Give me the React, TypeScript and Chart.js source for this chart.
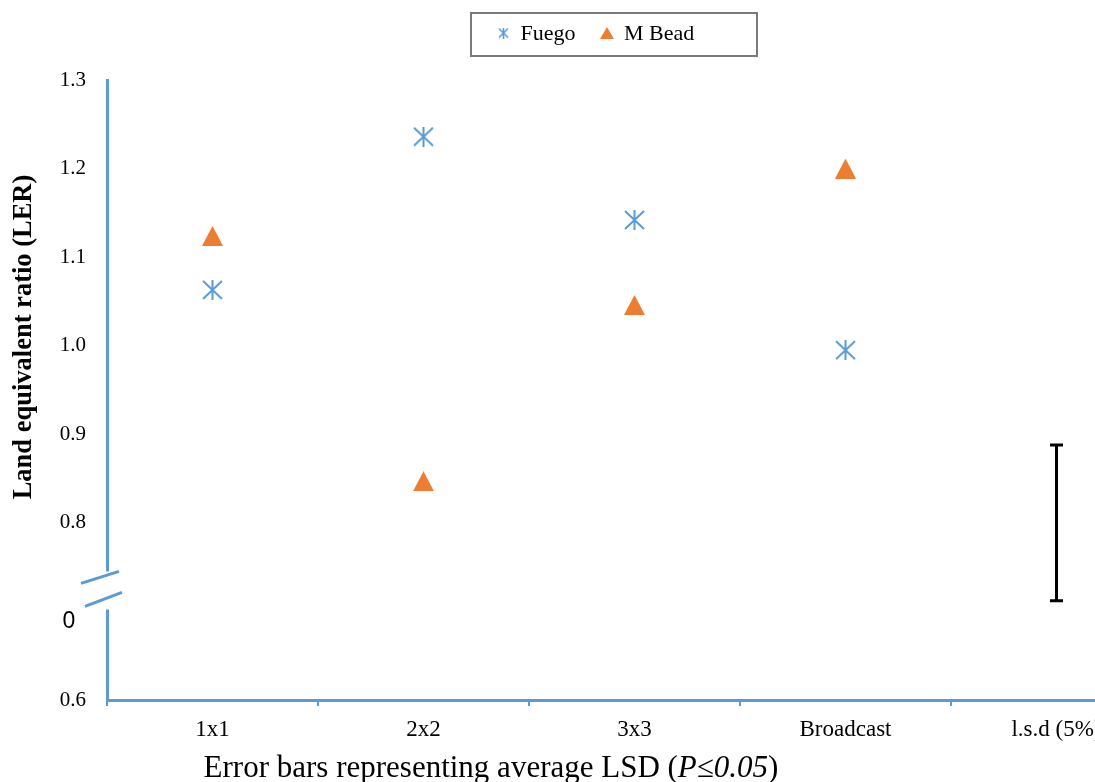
import React, { useEffect, useRef } from 'react';
import { Chart, registerables } from 'chart.js';

Chart.register(...registerables);

// ---- data ----
const categories = ['1x1', '2x2', '3x3', 'Broadcast', 'l.s.d (5%)'];
const seriesNames = ['Fuego', 'M Bead'];
const fuegoValues = [1.063, 1.236, 1.142, 0.995, null];
const mBeadValues = [1.124, 0.847, 1.046, 1.2, null];
const lsdCategory = 'l.s.d (5%)';
const lsdLow = 0.712;
const lsdHigh = 0.888;
const yMin = 0.6;
const yMax = 1.3;
const yStep = 0.1;
const breakTickValue = 0.7;
const breakTickLabel = '0';
const yTitle = 'Land equivalent ratio (LER)';
const xTitleMain = 'Error bars representing average LSD (';
const xTitleItalic = 'P≤0.05';
const xTitleEnd = ')';

// ---- styles ----
const BLUE = '#5B9BD5';
const ORANGE = '#ED7D31';
const SERIF = "'Liberation Serif', 'Times New Roman', serif";
const SANS = "'Liberation Sans', Arial, sans-serif";

function makeAsterisk(w: number, h: number, lw: number, color: string) {
  const c = document.createElement('canvas');
  c.width = w;
  c.height = h;
  const g = c.getContext('2d')!;
  g.strokeStyle = color;
  g.lineWidth = lw;
  g.beginPath();
  g.moveTo(1, 1);
  g.lineTo(w - 1, h - 1);
  g.moveTo(w - 1, 1);
  g.lineTo(1, h - 1);
  g.moveTo(w / 2, 0);
  g.lineTo(w / 2, h);
  g.stroke();
  return c;
}

function makeTriangle(w: number, h: number, color: string) {
  const c = document.createElement('canvas');
  c.width = w;
  c.height = h;
  const g = c.getContext('2d')!;
  g.fillStyle = color;
  g.beginPath();
  g.moveTo(w / 2, 0);
  g.lineTo(w, h);
  g.lineTo(0, h);
  g.closePath();
  g.fill();
  return c;
}

export default function App() {
  const ref = useRef<HTMLCanvasElement>(null);

  useEffect(() => {
    const canvas = ref.current;
    if (!canvas) return;

    const starBig = makeAsterisk(21, 20, 2, BLUE);
    const triBig = makeTriangle(21, 20, ORANGE);
    const starSmall = makeAsterisk(11, 11, 1.6, BLUE);
    const triSmall = makeTriangle(14, 12, ORANGE);
    const legendIcons = [starSmall, triSmall];

    const decor = {
      id: 'decor',
      afterDraw(chart: any) {
        const ctx = chart.ctx as CanvasRenderingContext2D;
        const yScale = chart.scales.y;
        const area = chart.chartArea;

        // axis break
        const y07 = yScale.getPixelForValue(breakTickValue);
        const ax = area.left;
        ctx.save();
        ctx.fillStyle = '#ffffff';
        ctx.fillRect(ax - 5, y07 - 40, 10, 38);
        ctx.strokeStyle = BLUE;
        ctx.lineWidth = 3;
        ctx.beginPath();
        ctx.moveTo(ax - 26, y07 - 28);
        ctx.lineTo(ax + 12, y07 - 40);
        ctx.moveTo(ax - 22, y07 - 5);
        ctx.lineTo(ax + 15, y07 - 19);
        ctx.stroke();
        ctx.fillStyle = '#000';
        ctx.font = `23px ${SANS}`;
        ctx.textAlign = 'center';
        ctx.textBaseline = 'middle';
        ctx.fillText(breakTickLabel, ax - 38, y07 + 10);
        ctx.restore();

        // y title
        ctx.save();
        ctx.translate(24, 337);
        ctx.rotate(-Math.PI / 2);
        ctx.font = `bold 26.5px ${SERIF}`;
        ctx.fillStyle = '#000';
        ctx.textAlign = 'center';
        ctx.textBaseline = 'middle';
        ctx.fillText(yTitle, 0, 0);
        ctx.restore();

        // x title
        ctx.save();
        ctx.fillStyle = '#000';
        ctx.textBaseline = 'alphabetic';
        ctx.textAlign = 'left';
        const fN = `31px ${SERIF}`;
        const fI = `italic 31px ${SERIF}`;
        ctx.font = fN;
        const w1 = ctx.measureText(xTitleMain).width;
        const w3 = ctx.measureText(xTitleEnd).width;
        ctx.font = fI;
        const w2 = ctx.measureText(xTitleItalic).width;
        let x = 491 - (w1 + w2 + w3) / 2;
        const by = 777;
        ctx.font = fN;
        ctx.fillText(xTitleMain, x, by);
        x += w1;
        ctx.font = fI;
        ctx.fillText(xTitleItalic, x, by);
        x += w2;
        ctx.font = fN;
        ctx.fillText(xTitleEnd, x, by);
        ctx.restore();

        // legend
        ctx.save();
        ctx.strokeStyle = '#7a7a7a';
        ctx.lineWidth = 2;
        ctx.strokeRect(471, 13, 286, 43);
        ctx.font = `22px ${SERIF}`;
        ctx.fillStyle = '#000';
        ctx.textBaseline = 'alphabetic';
        ctx.textAlign = 'left';
        const items = chart.data.datasets.filter((d: any) => d.inLegend);
        const iconX = [503.5, 607];
        items.forEach((d: any, i: number) => {
          const img = legendIcons[i];
          ctx.drawImage(img, iconX[i] - img.width / 2, 33 - img.height / 2);
          ctx.fillText(d.label, iconX[i] + 17, 40);
        });
        ctx.restore();
      },
    };

    const chart = new Chart(canvas, {
      type: 'line',
      data: {
        labels: categories,
        datasets: [
          {
            label: seriesNames[0],
            data: fuegoValues,
            showLine: false,
            pointStyle: starBig as any,
            pointRadius: 10,
            pointHoverRadius: 10,
            borderColor: BLUE,
            backgroundColor: BLUE,
            inLegend: true,
          } as any,
          {
            label: seriesNames[1],
            data: mBeadValues,
            showLine: false,
            pointStyle: triBig as any,
            pointRadius: 10,
            pointHoverRadius: 10,
            borderColor: ORANGE,
            backgroundColor: ORANGE,
            inLegend: true,
          } as any,
          {
            label: 'LSD',
            data: [
              { x: lsdCategory, y: lsdLow },
              { x: lsdCategory, y: lsdHigh },
            ],
            showLine: true,
            borderColor: '#000',
            backgroundColor: '#000',
            borderWidth: 3,
            pointStyle: 'line',
            pointRadius: 6.5,
            pointHoverRadius: 6.5,
            pointBorderWidth: 3,
            pointBorderColor: '#000',
            inLegend: false,
          } as any,
        ],
      },
      options: {
        responsive: false,
        animation: false,
        devicePixelRatio: 1,
        events: [],
        layout: { padding: { left: 0, top: 80, right: 38, bottom: 0 } },
        plugins: {
          legend: { display: false },
          tooltip: { enabled: false },
        },
        scales: {
          x: {
            type: 'category',
            offset: true,
            grid: {
              display: true,
              offset: true,
              drawOnChartArea: false,
              drawTicks: true,
              tickLength: 6,
              color: BLUE,
              lineWidth: 2,
            },
            border: { display: true, color: BLUE, width: 3 },
            ticks: {
              color: '#000',
              font: { family: SERIF, size: 23 },
              padding: 10,
              maxRotation: 0,
              autoSkip: false,
            },
            afterFit: (s: any) => {
              s.height = 82;
            },
          },
          y: {
            min: yMin,
            max: yMax,
            grid: { display: false, drawTicks: false },
            border: { display: true, color: BLUE, width: 3 },
            ticks: {
              stepSize: yStep,
              color: '#000',
              font: { family: SERIF, size: 21 },
              padding: 21,
              callback: (v: any) =>
                Math.abs(Number(v) - breakTickValue) < 1e-6 ? '' : Number(v).toFixed(1),
            },
            afterFit: (s: any) => {
              s.width = 107;
            },
          },
        },
      } as any,
      plugins: [decor],
    });

    return () => chart.destroy();
  }, []);

  return (
    <div
      style={{
        position: 'fixed',
        left: 0,
        top: 0,
        width: 1095,
        height: 782,
        overflow: 'hidden',
        background: '#fff',
      }}
    >
      <canvas ref={ref} width={1200} height={782} style={{ display: 'block', width: 1200, height: 782 }} />
    </div>
  );
}
